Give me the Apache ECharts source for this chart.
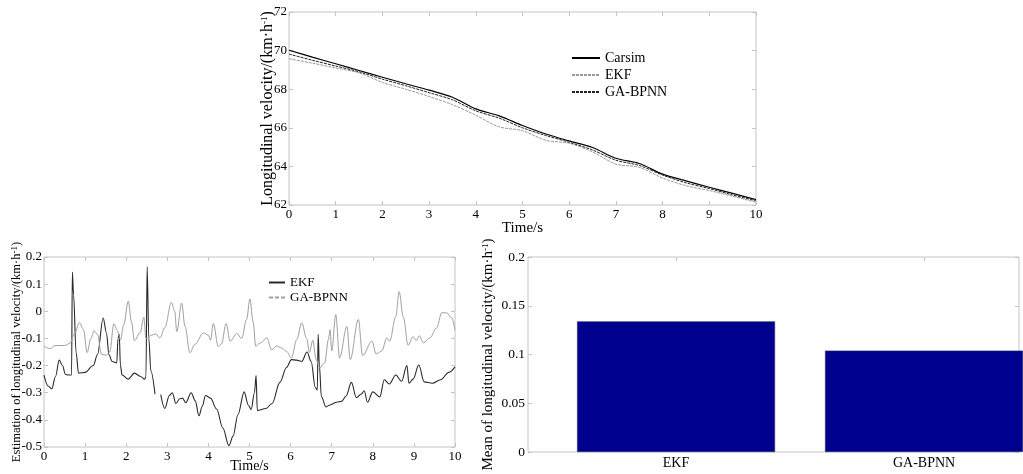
<!DOCTYPE html>
<html>
<head>
<meta charset="utf-8">
<script src="https://cdn.jsdelivr.net/npm/echarts@6/dist/echarts.min.js"></script>
<style>
  html, body { margin: 0; padding: 0; background: #fff; }
  #chart { width: 1023px; height: 474px; }
</style>
</head>
<body>
<div id="chart"></div>
<script>
// top panel: velocity vs time
const topTime = [0, 0.5, 1, 1.5, 2, 2.5, 3, 3.5, 4, 4.5, 5, 5.5, 6, 6.5, 7, 7.5, 8, 8.5, 9, 9.5, 10];
const carsimVel = [70.02, 69.66, 69.32, 68.97, 68.62, 68.28, 67.95, 67.58, 66.98, 66.62, 66.12, 65.68, 65.32, 64.98, 64.42, 64.15, 63.6, 63.25, 62.92, 62.6, 62.28];
const ekfVel = [69.58, 69.35, 69.1, 68.85, 68.35, 68.0, 67.62, 67.2, 66.65, 66.05, 65.85, 65.35, 65.2, 64.75, 64.12, 63.95, 63.4, 63.0, 62.75, 62.45, 62.15];
const gaVel = [69.82, 69.5, 69.2, 68.9, 68.52, 68.18, 67.82, 67.45, 66.88, 66.5, 66.0, 65.6, 65.25, 64.85, 64.32, 64.05, 63.55, 63.15, 62.85, 62.52, 62.22];

// bottom-left panel: estimation error
const ekfErrTime = [0, 0.1, 0.19, 0.28, 0.37, 0.45, 0.52, 0.6, 0.67, 0.69, 0.72, 0.78, 0.84, 1.0, 1.2, 1.3, 1.44, 1.52, 1.58, 1.66, 1.77, 1.8, 1.83, 1.86, 1.9, 2.05, 2.2, 2.35, 2.45, 2.48, 2.51, 2.55, 2.6, 2.7, 2.77, 2.84, 2.94, 3.05, 3.12, 3.21, 3.3, 3.37, 3.45, 3.58, 3.68, 3.77, 3.85, 3.93, 4.05, 4.2, 4.35, 4.5, 4.6, 4.72, 4.87, 4.97, 5.04, 5.12, 5.16, 5.19, 5.4, 5.55, 5.74, 5.9, 6.02, 6.15, 6.27, 6.4, 6.5, 6.6, 6.65, 6.67, 6.7, 6.75, 6.86, 6.96, 7.12, 7.24, 7.35, 7.48, 7.6, 7.72, 7.79, 7.87, 8.0, 8.17, 8.28, 8.4, 8.56, 8.7, 8.83, 8.88, 8.98, 9.12, 9.25, 9.45, 9.65, 9.85, 10];
const ekfErr = [-0.235, -0.275, -0.285, -0.24, -0.18, -0.2, -0.232, -0.235, -0.235, 0.145, 0.06, -0.15, -0.228, -0.225, -0.2, -0.16, -0.025, -0.08, -0.16, -0.185, -0.19, -0.1, -0.085, -0.2, -0.235, -0.25, -0.228, -0.24, -0.25, -0.24, 0.165, -0.1, -0.22, -0.305, null, -0.307, -0.358, -0.31, -0.3, -0.34, -0.322, -0.32, -0.337, -0.3, -0.33, -0.385, -0.35, -0.31, -0.32, -0.36, -0.43, -0.495, -0.46, -0.38, -0.297, -0.345, -0.362, -0.3, -0.237, -0.365, -0.358, -0.34, -0.262, -0.207, -0.178, -0.18, -0.185, -0.15, -0.185, -0.28, -0.29, -0.085, -0.2, -0.315, -0.352, -0.345, -0.335, -0.332, -0.312, -0.262, -0.318, -0.305, -0.293, -0.335, -0.297, -0.316, -0.252, -0.268, -0.235, -0.258, -0.2, -0.265, -0.25, -0.198, -0.26, -0.265, -0.252, -0.225, -0.205];
const gaErrTime = [0, 0.15, 0.27, 0.5, 0.63, 0.75, 0.86, 0.96, 1.05, 1.14, 1.22, 1.3, 1.4, 1.52, 1.6, 1.7, 1.78, 1.86, 1.94, 2.05, 2.13, 2.2, 2.34, 2.43, 2.48, 2.62, 2.72, 2.82, 2.94, 3.1, 3.18, 3.23, 3.35, 3.43, 3.55, 3.67, 3.88, 4.0, 4.05, 4.12, 4.24, 4.32, 4.43, 4.53, 4.69, 4.81, 4.93, 5.01, 5.09, 5.15, 5.25, 5.42, 5.54, 5.66, 5.78, 5.9, 6.02, 6.15, 6.27, 6.39, 6.46, 6.54, 6.62, 6.71, 6.83, 6.92, 6.96, 7.0, 7.1, 7.19, 7.37, 7.45, 7.65, 7.75, 7.98, 8.08, 8.22, 8.34, 8.41, 8.56, 8.64, 8.74, 8.86, 8.98, 9.06, 9.13, 9.23, 9.39, 9.55, 9.68, 9.8, 9.92, 10];
const gaErr = [-0.128, -0.138, -0.126, -0.126, -0.118, -0.08, -0.042, -0.067, -0.152, -0.1, -0.072, -0.085, -0.158, -0.162, -0.15, -0.046, -0.07, -0.105, -0.05, 0.037, -0.04, -0.108, -0.078, -0.022, -0.1, -0.088, -0.083, -0.098, -0.06, 0.033, 0.0, -0.075, 0.03, -0.055, -0.153, -0.122, -0.08, -0.088, -0.107, -0.045, -0.13, -0.12, -0.045, -0.11, -0.082, -0.1, -0.03, 0.045, -0.04, -0.128, -0.118, -0.098, -0.142, -0.128, -0.135, -0.148, -0.172, -0.104, -0.042, -0.1, -0.152, -0.106, -0.178, -0.208, -0.19, -0.104, -0.068, -0.146, -0.012, -0.172, -0.056, -0.178, -0.03, -0.163, -0.11, -0.157, -0.146, -0.098, -0.11, -0.02, 0.073, -0.02, -0.125, -0.094, -0.108, -0.09, -0.116, -0.098, -0.062, -0.005, -0.006, -0.024, -0.07];

// bottom-right panel: mean error
const barCats = ['EKF', 'GA-BPNN'];
const barMeans = [0.134, 0.104];

const FONT = "'Liberation Serif', 'Times New Roman', serif";
const FRAME = '#c4c4c4';

function zip(xs, ys) {
  return xs.map((x, i) => [x, ys[i] === null ? '-' : ys[i]]);
}

// main axis + a mirrored one (MATLAB box with inner ticks)
function axisPair(kind, grid, opts, fontSize) {
  const base = {
    type: 'value', gridIndex: grid,
    min: opts.min, max: opts.max, interval: opts.interval,
    axisLine: { show: false, onZero: false },
    splitLine: { show: false },
    axisTick: { inside: true, length: 4, lineStyle: { color: FRAME } }
  };
  const main = Object.assign({}, base, {
    position: kind === 'x' ? 'bottom' : 'left',
    axisLabel: { color: '#000', fontFamily: FONT, fontSize: fontSize, margin: opts.margin },
    name: opts.name,
    nameLocation: 'middle',
    nameGap: opts.nameGap,
    nameMoveOverlap: false,
    nameRotate: kind === 'y' ? 90 : 0,
    nameTextStyle: {
      color: '#000', fontFamily: FONT, fontSize: opts.nameSize || fontSize,
      rich: { sup: { fontFamily: FONT, fontSize: 9, verticalAlign: 'top', color: '#000' } }
    }
  });
  const mirror = Object.assign({}, base, {
    position: kind === 'x' ? 'top' : 'right',
    axisLabel: { show: false }
  });
  if (opts.custom) {
    main.axisLabel.customValues = opts.custom;
    main.axisLabel.formatter = opts.formatter;
    main.axisTick = Object.assign({}, base.axisTick, { customValues: opts.custom });
    mirror.axisTick = Object.assign({}, base.axisTick, { customValues: opts.custom });
  }
  return [main, mirror];
}

const unit = '/(km·h{sup|-1})';

const xAxes = [].concat(
  axisPair('x', 0, { min: 0, max: 10, interval: 1, margin: 3, name: 'Time/s', nameGap: 16, nameSize: 15 }, 13),
  axisPair('x', 1, { min: 0, max: 10, interval: 1, margin: 3, name: 'Time/s', nameGap: 12, nameSize: 14 }, 13),
  axisPair('x', 2, { min: 0.403, max: 2.383, margin: 4, custom: [1, 2],
    formatter: v => barCats[Math.round(v) - 1], name: '', nameGap: 0 }, 14)
);
const yAxes = [].concat(
  axisPair('y', 0, { min: 62, max: 72, interval: 2, margin: 2,
    name: 'Longitudinal velocity' + unit, nameGap: 13, nameSize: 16 }, 13),
  axisPair('y', 1, { min: -0.5, max: 0.2, interval: 0.1, margin: 2,
    name: 'Estimation of longitudinal velocity' + unit, nameGap: 21, nameSize: 12.5 }, 13),
  axisPair('y', 2, { min: 0, max: 0.2, interval: 0.05, margin: 3,
    name: 'Mean of longitudinal velocity' + unit, nameGap: 32, nameSize: 15 }, 13.5)
);

const chart = echarts.init(document.getElementById('chart'), null, { renderer: 'canvas' });

chart.setOption({
  animation: false,
  backgroundColor: '#fff',
  textStyle: { fontFamily: FONT },
  grid: [
    { left: 289, top: 12, width: 467, height: 193, show: true, borderColor: FRAME, borderWidth: 1 },
    { left: 44, top: 257, width: 411, height: 191, show: true, borderColor: FRAME, borderWidth: 1 },
    { left: 528, top: 257, width: 491, height: 195, show: true, borderColor: FRAME, borderWidth: 1 }
  ],
  xAxis: xAxes,
  yAxis: yAxes,
  legend: [
    {
      orient: 'vertical', left: 566, top: 46,
      itemWidth: 28, itemHeight: 14, itemGap: 3,
      itemStyle: { opacity: 0 },
      data: ['Carsim', 'EKF', 'GA-BPNN'],
      textStyle: { color: '#000', fontFamily: FONT, fontSize: 14 }
    },
    {
      orient: 'vertical', left: 263, top: 271,
      itemWidth: 16, itemHeight: 12, itemGap: 2,
      itemStyle: { opacity: 0 },
      data: ['EKF err', { name: 'GA-BPNN err', lineStyle: { type: [4, 2] } }],
      formatter: n => n.replace(' err', ''),
      textStyle: { color: '#000', fontFamily: FONT, fontSize: 13 }
    }
  ],
  series: [
    {
      name: 'Carsim', type: 'line', xAxisIndex: 0, yAxisIndex: 0,
      data: zip(topTime, carsimVel), smooth: 0.3, showSymbol: false,
      lineStyle: { color: '#000', width: 1.2 }, itemStyle: { color: '#000' }
    },
    {
      name: 'EKF', type: 'line', xAxisIndex: 0, yAxisIndex: 0,
      data: zip(topTime, ekfVel), smooth: 0.3, showSymbol: false,
      lineStyle: { color: '#9a9a9a', width: 1, type: [3, 1] }, itemStyle: { color: '#9a9a9a' }
    },
    {
      name: 'GA-BPNN', type: 'line', xAxisIndex: 0, yAxisIndex: 0,
      data: zip(topTime, gaVel), smooth: 0.3, showSymbol: false,
      lineStyle: { color: '#222', width: 1, type: [3, 1] }, itemStyle: { color: '#222' }
    },
    {
      name: 'EKF err', type: 'line', xAxisIndex: 2, yAxisIndex: 2,
      data: zip(ekfErrTime, ekfErr), smooth: 0.35, smoothMonotone: 'x', showSymbol: false,
      connectNulls: false,
      lineStyle: { color: '#2a2a2a', width: 1.1 }, itemStyle: { color: '#2a2a2a' }
    },
    {
      name: 'GA-BPNN err', type: 'line', xAxisIndex: 2, yAxisIndex: 2,
      data: zip(gaErrTime, gaErr), smooth: 0.35, smoothMonotone: 'x', showSymbol: false,
      lineStyle: { color: '#a0a0a0', width: 1 }, itemStyle: { color: '#a0a0a0' }
    },
    {
      name: 'mean', type: 'bar', xAxisIndex: 4, yAxisIndex: 4,
      data: barMeans.map((v, i) => [i + 1, v]),
      barWidth: 198,
      itemStyle: { color: '#00008f', borderColor: '#2b2b6b', borderWidth: 0.6 }
    }
  ]
});
</script>
</body>
</html>
